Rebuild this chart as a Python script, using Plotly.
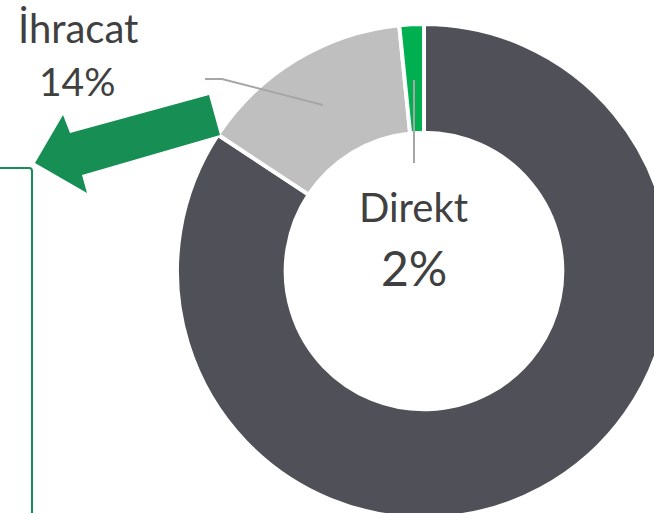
import plotly.graph_objects as go

# Data (clockwise from 12 o'clock)
categories = ["Yurt içi", "İhracat", "Direkt"]
shares = [84.3, 14.1, 1.6]
slice_colors = ["#4f5058", "#bfbfbf", "#00b050"]

W, H = 680, 530
FONT = "Lato"
TXT = "#404040"

fig = go.Figure()

# donut: center (424, 271), outer radius ~247 px
cx, cy, r = 424, 271, 247
fig.add_trace(go.Pie(
    labels=categories, values=shares, sort=False,
    direction="clockwise", rotation=0,
    hole=0.56,
    marker=dict(colors=slice_colors, line=dict(color="white", width=4)),
    textinfo="none", showlegend=False,
    domain=dict(x=[(cx - r) / W, (cx + r) / W],
                y=[(H - cy - r) / H, (H - cy + r) / H]),
))

# invisible pixel-space axes for decorations
fig.update_xaxes(range=[0, W], visible=False, fixedrange=True)
fig.update_yaxes(range=[H, 0], visible=False, fixedrange=True)

shapes = []
# leader lines
shapes.append(dict(type="path", path="M 205,79 L 222,79 L 323,105",
                   line=dict(color="#a6a6a6", width=2)))
shapes.append(dict(type="line", x0=414, y0=80, x1=414, y1=163,
                   line=dict(color="#a6a6a6", width=2)))
# green arrow
shapes.append(dict(type="path",
                   path="M 209,95 L 70,133 L 63,115 L 35,163 L 87,193 L 82,175 L 220,135 Z",
                   fillcolor="#178e54", line=dict(width=0)))
# thin green bracket line
shapes.append(dict(type="path", path="M -5,168 L 29,168 Q 32,168 32,171 L 32,540",
                   line=dict(color="#178e54", width=2)))
fig.update_layout(shapes=shapes)

ann = []
ann.append(dict(x=78, y=28, text=categories[1], showarrow=False,
                font=dict(family=FONT, size=40, color=TXT)))
ann.append(dict(x=77, y=81, text=f"{round(shares[1])}%", showarrow=False,
                font=dict(family=FONT, size=39, color=TXT)))
ann.append(dict(x=413, y=207, text=categories[2], showarrow=False,
                font=dict(family=FONT, size=40, color=TXT)))
ann.append(dict(x=414, y=267, text=f"{round(shares[2])}%", showarrow=False,
                font=dict(family=FONT, size=48, color=TXT)))
for a in ann:
    a.update(xref="x", yref="y", xanchor="center", yanchor="middle")
fig.update_layout(annotations=ann)

fig.update_layout(width=W, height=H, margin=dict(l=0, r=0, t=0, b=0),
                  paper_bgcolor="white", plot_bgcolor="white")

fig.write_html("out.html", config=dict(displayModeBar=False), post_script=(
    "document.body.style.margin='0';"
    "document.body.style.overflow='hidden';"
    "document.documentElement.style.overflow='hidden';"))
